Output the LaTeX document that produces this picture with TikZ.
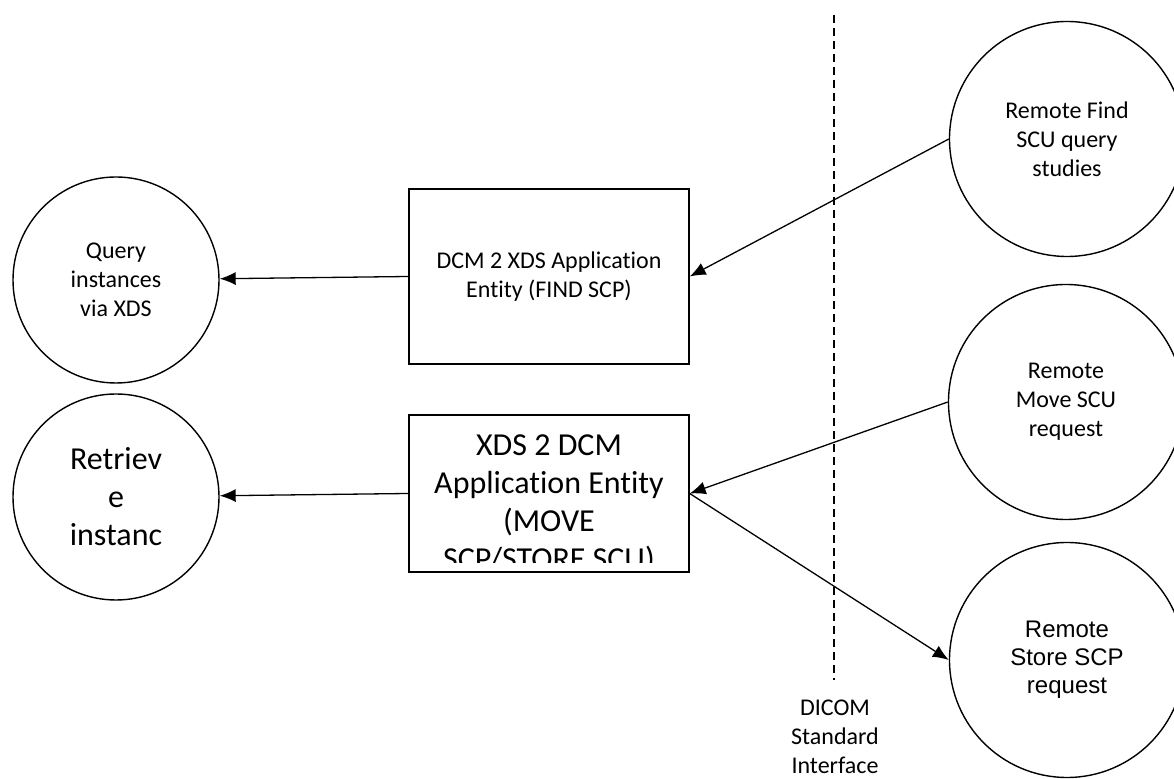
\documentclass[tikz,border=0pt]{standalone}
\usepackage{fontspec}
\setmainfont{Carlito}[Ligatures=NoCommon]
\newfontfamily\arialfont{Liberation Sans}
\usepackage{tikz}
\usetikzlibrary{shapes.geometric, arrows.meta}
\usetikzlibrary{positioning}
\newcommand{\smallfont}{\fontsize{12}{14.5}\selectfont}
\newcommand{\bigfont}{\fontsize{16}{19}\selectfont}
\tikzstyle{endCircle} = [circle, draw=black, line width=0.7pt, minimum size=103pt, inner sep=0pt, align=center, font=\smallfont]
\tikzstyle{remoteCircle} = [endCircle, minimum size=117.5pt]
\tikzstyle{appBox} = [rectangle, draw=black, line width=0.7pt, minimum width=140pt, inner sep=0pt, align=center, font=\smallfont]
\tikzstyle{arrow} = [line width=0.65pt, ->, >={Latex[length=8pt, width=6.5pt]}]
\tikzstyle{boundary} = [line width=0.6pt, dash pattern=on 4pt off 2.5pt]

\begin{document}
\begin{tikzpicture}[x=0.5pt, y=-0.5pt, node distance = 108.5pt]
    \useasboundingbox (0,0) rectangle (1174,779);
    \node (qry) [endCircle] at (116,280) {Query\\instances\\via XDS};
    \node (ret) [endCircle, font=\bigfont, below of = qry] {Retriev\\e\\instanc};
    \node (dx) [appBox, minimum height=87.5pt] at (549,276.5) {DCM 2 XDS Application\\Entity (FIND SCP)};
    \node (xd) [appBox, minimum height=78.5pt, below of = dx, path picture={
        \clip ([yshift=4.5pt]path picture bounding box.south west) rectangle (path picture bounding box.north east);
        \node [align=center, font=\bigfont] at ([yshift=-5.5pt]path picture bounding box.center) {XDS 2 DCM\\Application Entity\\(MOVE\\SCP/STORE SCU)};
    }] {};
    \node (rf) [remoteCircle] at (1067,139) {Remote Find\\SCU query\\studies};
    \node (rm) [remoteCircle] at (1066,402) {Remote\\Move SCU\\request};
    \node (rs) [remoteCircle, font=\arialfont\fontsize{12}{14}\selectfont] at (1067,660) {Remote\\Store SCP\\request};
    \coordinate (dtop) at (834,15);
    \coordinate (dbot) at (834,680);
    \node (dlbl) [align=center, font=\smallfont] at (835,737) {DICOM\\Standard\\Interface};
    \draw [boundary] (dtop) -- (dbot);
    \draw [arrow] (dx.west) -- (qry);
    \draw [arrow] (xd.west) -- (ret);
    \draw [arrow] (rf.west) -- (dx.east);
    \draw [arrow] (rm.west) -- (xd.east);
    \draw [arrow] (xd.east) -- (rs.west);
\end{tikzpicture}
\end{document}
